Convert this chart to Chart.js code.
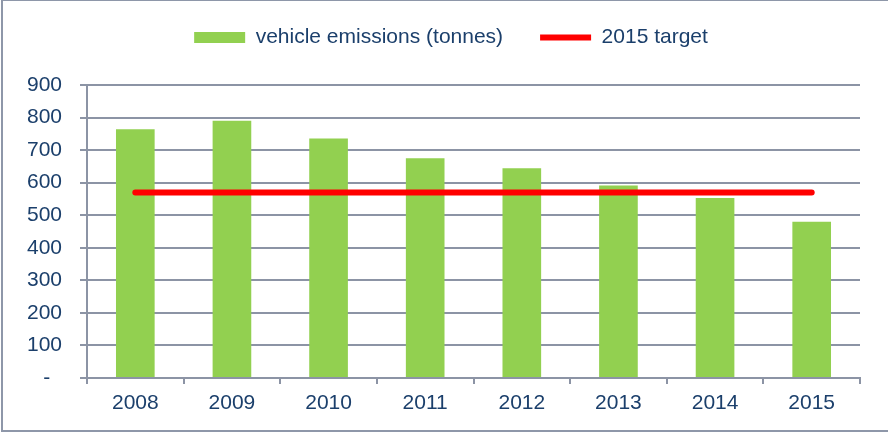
<!DOCTYPE html>
<html>
<head>
<meta charset="utf-8">
<script src="https://cdn.jsdelivr.net/npm/chart.js@4"></script>
<style>
  html, body { margin: 0; padding: 0; background: #fff; overflow: hidden; }
  #wrap { position: relative; width: 888px; height: 434px; }
  #frame { position: absolute; left: 1px; top: -1px; width: 900px; height: 433px;
           border: 2px solid #8e97a9; box-sizing: border-box; pointer-events: none; }
</style>
</head>
<body>
<div id="wrap">
  <canvas id="emissions-chart" width="888" height="434"></canvas>
  <div id="frame"></div>
</div>
<script>
// data
var years = ['2008', '2009', '2010', '2011', '2012', '2013', '2014', '2015'];
var emissions = [764, 790, 736, 675, 644, 591, 553, 480];
var target = [570, 570, 570, 570, 570, 570, 570, 570];
var yTicks = [0, 100, 200, 300, 400, 500, 600, 700, 800, 900];

var textColor = '#1b3f6b';
var gridColor = '#8c94a5';
var font = { family: 'Liberation Sans, Arial, sans-serif', size: 21 };

// makes the legend a bit taller so the plot starts lower
var legendHeight = {
    id: 'legendHeight',
    afterInit: function(chart) {
        var lg = chart.legend;
        var fit = lg.fit;
        lg.fit = function() {
            fit.call(this);
            this.height = 95;
        };
    }
};

var ctx = document.getElementById('emissions-chart').getContext('2d');
var chart = new Chart(ctx, {
    data: {
        labels: years,
        datasets: [{
            type: 'bar',
            label: 'vehicle emissions (tonnes)',
            data: emissions,
            backgroundColor: '#92d050',
            borderWidth: 0,
            pointStyle: 'rect',
            barPercentage: 0.4,
            categoryPercentage: 1,
            order: 2
        }, {
            type: 'line',
            label: '2015 target',
            data: target,
            borderColor: '#ff0000',
            backgroundColor: '#ff0000',
            borderWidth: 6,
            borderCapStyle: 'round',
            pointRadius: 0,
            pointStyle: 'line',
            fill: false,
            order: 1
        }]
    },
    options: {
        responsive: false,
        animation: false,
        layout: { padding: { left: 14, right: 0, top: -10, bottom: 0 } },
        plugins: {
            tooltip: { enabled: false },
            legend: {
                position: 'top',
                labels: {
                    usePointStyle: true,
                    pointStyleWidth: 51,
                    boxHeight: 11,
                    padding: 37,
                    color: textColor,
                    font: { family: font.family, size: 21, lineHeight: 1 },
                    sort: function(a, b) { return a.datasetIndex - b.datasetIndex; }
                }
            }
        },
        scales: {
            x: {
                offset: true,
                grid: { offset: true, drawOnChartArea: false, drawTicks: true, tickLength: 6, color: gridColor, lineWidth: 2 },
                border: { color: gridColor, width: 2 },
                ticks: { color: textColor, font: font, padding: 7, maxRotation: 0 },
                afterFit: function(scale) { scale.height = 56; }
            },
            y: {
                min: 0,
                max: 900,
                afterBuildTicks: function(scale) {
                    scale.ticks = yTicks.map(function(v) { return { value: v }; });
                },
                grid: { color: gridColor, lineWidth: 2, tickLength: 7 },
                border: { color: gridColor, width: 2 },
                ticks: {
                    color: textColor,
                    font: font,
                    padding: 18,
                    callback: function(v) { return v === 0 ? '-  ' : v; }
                },
                afterFit: function(scale) { scale.width = 73; }
            },
            // empty axis on the right, only keeps the space there
            yRight: {
                position: 'right',
                grid: { display: false },
                border: { display: false },
                ticks: { display: false },
                afterFit: function(scale) { scale.width = 28; }
            }
        }
    },
    plugins: [legendHeight]
});
</script>
</body>
</html>
